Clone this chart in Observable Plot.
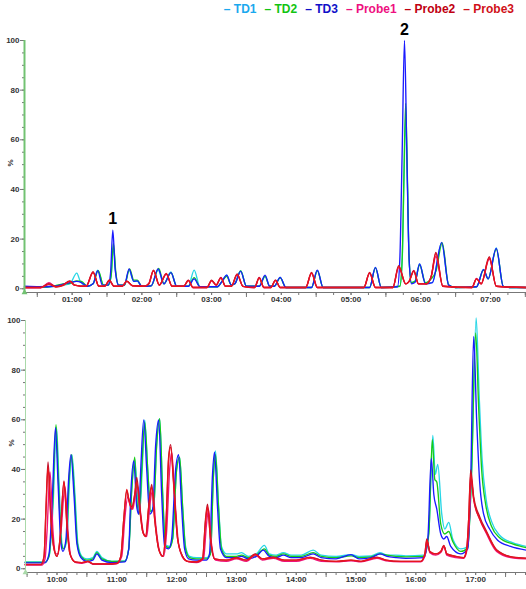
<!DOCTYPE html>
<html><head><meta charset="utf-8">
<script src="https://cdn.jsdelivr.net/npm/d3@7"></script>
<script src="https://cdn.jsdelivr.net/npm/@observablehq/plot@0.6"></script>
<style>
body{margin:0;background:#fff;font-family:"Liberation Sans",Arial,sans-serif;}
#wrap{position:relative;width:526px;height:589px;overflow:hidden;background:#fff}
#legend{position:absolute;top:2px;right:12px;font-weight:bold;font-size:12px;white-space:nowrap;line-height:14px}
#legend span{margin-left:8px}
#top{position:absolute;left:0;top:22px}
#bot{position:absolute;left:0;top:302px}
</style></head>
<body><div id="wrap"><div id="legend"></div><div id="top"></div><div id="bot"></div></div>
<script>
// ---------- data ----------
const seriesNames = ["TD1","TD2","TD3","Probe1","Probe2","Probe3"];
const lineColors = ["#27d6e6","#17cc17","#1a1aff","#f0127a","#c0102a","#e8141e"];
const legendColors = ["#1aa8ee","#12c412","#1010c8","#ee1080","#c00010","#d01018"];
const yTicks = [0,20,40,60,80,100];
const peakLabels = [{series:"TD3", t:"01:35", label:"1"}, {series:"TD3", t:"05:46", label:"2"}];

const td1Top = [["00:19",0.8],["00:32",0.6],["00:45",1],["00:52",1.5],["00:58",2],["01:04",6.3],["01:07",3],["01:13",1],["01:18",2],["01:22",7.5],["01:27",1.5],["01:31",1.5],["01:33:30",5],["01:35:30",17],["01:37:30",6],["01:40",1.5],["01:45",1.5],["01:49",7.5],["01:53",3],["01:56",3],["02:00",1],["02:08",1.2],["02:14",7.5],["02:19",2],["02:25",6.8],["02:30",1],["02:40",1],["02:45",7.5],["02:50",0.8],["03:05",0.8],["03:09",3],["03:13",5.5],["03:17",1.5],["03:20",2],["03:25",7.3],["03:30",1],["03:41",1],["03:46",5],["03:50",1],["03:54",1],["03:59",4.6],["04:04",0.5],["04:26",0.5],["04:31",7.3],["04:36",0.5],["05:16",0.5],["05:21",8.6],["05:26",0.5],["05:42",1],["05:44",11],["05:45:30",42],["05:47",70],["05:48:30",42],["05:50",11],["05:52",2.5],["05:55",3],["05:59",10],["06:04",2.5],["06:10",2.5],["06:18",18.5],["06:24",1.5],["06:30",0.5],["06:48",0.8],["06:54",7.8],["06:58",4],["07:05",16.5],["07:11",1],["07:18",0.5],["07:31",0.5]];
const td2Top = [["00:19",0.8],["00:32",0.6],["00:45",1.2],["00:52",2],["00:58",2.2],["01:04",3.2],["01:08",3],["01:13",1],["01:18",2],["01:22:30",7.3],["01:27",1.5],["01:31",1.5],["01:33:30",5],["01:35:30",18.3],["01:37:30",7],["01:40",1.5],["01:45",1.5],["01:49:30",8],["01:53",3.5],["01:56",3.5],["02:00",1],["02:08",1.2],["02:14:30",8.2],["02:19",2],["02:25",6.5],["02:30",1],["02:40",1],["02:45",4.5],["02:50",0.8],["03:05",0.8],["03:09",3],["03:13",5],["03:17",1.5],["03:20",2],["03:25",7.2],["03:30",1],["03:41",1],["03:46",5],["03:50",1],["03:54",1],["03:59",4.4],["04:04",0.5],["04:26",0.5],["04:31",7.3],["04:36",0.5],["05:16",0.5],["05:21",8.4],["05:26",0.5],["05:42",1],["05:44",12],["05:45:30",45],["05:47",74.7],["05:48:30",45],["05:50",12],["05:52",2.5],["05:55",3],["05:59",9.5],["06:04",2.5],["06:09",4],["06:13",7],["06:18:30",18.5],["06:24",1.5],["06:30",0.5],["06:48",0.8],["06:54",7.5],["06:58",4],["07:05",16],["07:11",1],["07:18",0.5],["07:31",0.5]];
const td3Top = [["00:19",1],["00:32",0.8],["00:45",1],["00:52",1.8],["00:58",2.5],["01:04",3],["01:08",2.5],["01:13",1],["01:18",2],["01:22",7.3],["01:26",1.5],["01:31",1.5],["01:33",6],["01:35",23.6],["01:37",8],["01:40",1.5],["01:45",1.5],["01:49",8],["01:53",3],["01:56",3.2],["02:00",1],["02:08",1.2],["02:14",8],["02:19",2],["02:25",6.5],["02:30",1],["02:40",1],["02:45",4],["02:50",0.8],["03:05",0.8],["03:09",3],["03:13",5.5],["03:17",1.5],["03:20",2],["03:25",7],["03:30",1],["03:41",1],["03:46",5.5],["03:50",1],["03:54",1],["03:59",4.6],["04:04",0.5],["04:26",0.5],["04:31",7.5],["04:36",0.5],["05:16",0.5],["05:21",8.6],["05:26",0.5],["05:40",0.8],["05:42",12],["05:44",55],["05:46",100],["05:48",55],["05:50",12],["05:52",2],["05:55",2.5],["05:59",10],["06:04",2],["06:10",2.5],["06:18",18.7],["06:24",1.5],["06:30",0.5],["06:48",0.8],["06:54",7.7],["06:58",4],["07:05",16.3],["07:11",1],["07:18",0.5],["07:31",0.5]];
const probe1Top = [["00:19",0.4],["00:33",0.4],["00:40",2.5],["00:46",0.8],["00:52",1.5],["00:58",3],["01:02",1.5],["01:12",1],["01:18",6.6],["01:23",1],["01:28",1],["01:32",3.2],["01:36",1],["01:43",1],["01:47",3],["01:52",1.2],["02:02",1],["02:06",2.2],["02:10",7.2],["02:15",1.5],["02:21",5.8],["02:26",1],["02:36",1],["02:40",3.4],["02:44",0.5],["02:56",0.5],["03:00",3.2],["03:04",1.5],["03:08",4.6],["03:12",1],["03:17",1],["03:22",5.6],["03:27",1],["03:37",0.5],["03:41",4.6],["03:45",0.5],["03:51",0.5],["03:55",3.5],["03:59",0.5],["04:21",0.5],["04:26",6.2],["04:31",0.5],["05:11",0.5],["05:16",6.2],["05:21",0.5],["05:36",0.5],["05:41",8.5],["05:47",2],["05:50",3],["05:54",7.4],["05:58",2],["06:05",2],["06:09",5],["06:13",13],["06:19",1],["06:44",0.5],["06:48",4.2],["06:52",2],["06:59",12],["07:05",1],["07:31",0.5]];
const probe2Top = [["00:19",0.5],["00:33",0.5],["00:40",2.1],["00:46",0.8],["00:52",1.5],["00:58",3.2],["01:02",1.5],["01:12",1],["01:18",6.9],["01:23",1],["01:28",1],["01:32",3.6],["01:36",1],["01:43",1],["01:47",3],["01:52",1.2],["02:02",1],["02:06",2],["02:10",7.5],["02:15",1.5],["02:21",6],["02:26",1],["02:36",1],["02:40",3.5],["02:44",0.5],["02:56",0.5],["03:00",3.5],["03:04",1.5],["03:08",4.5],["03:12",1],["03:17",1],["03:22",6],["03:27",1],["03:37",0.5],["03:41",4.5],["03:45",0.5],["03:51",0.5],["03:55",3.5],["03:59",0.5],["04:21",0.5],["04:26",6.6],["04:31",0.5],["05:11",0.5],["05:16",6.6],["05:21",0.5],["05:36",0.5],["05:41",9.3],["05:47",2],["05:50",3],["05:54",7.3],["05:58",2],["06:05",2],["06:09",5],["06:13",14.6],["06:19",1],["06:44",0.5],["06:48",4],["06:52",2],["06:59",12.9],["07:05",1],["07:31",0.5]];
const probe3Top = [["00:19",0.5],["00:33",0.5],["00:40",1.8],["00:46",0.8],["00:52",1.3],["00:58",3],["01:02",1.5],["01:12",1],["01:18",6.5],["01:23",1],["01:28",1],["01:32",3.4],["01:36",1],["01:43",1],["01:47",3.2],["01:52",1.2],["02:02",1],["02:06",2],["02:10",7.3],["02:15",1.5],["02:21",6.2],["02:26",1],["02:36",1],["02:40",3.3],["02:44",0.5],["02:56",0.5],["03:00",3.3],["03:04",1.5],["03:08",4.3],["03:12",1],["03:17",1],["03:22",5.8],["03:27",1],["03:37",0.5],["03:41",4.3],["03:45",0.5],["03:51",0.5],["03:55",3.3],["03:59",0.5],["04:21",0.5],["04:26",6.4],["04:31",0.5],["05:11",0.5],["05:16",6.4],["05:21",0.5],["05:36",0.5],["05:41",9],["05:47",2],["05:50",3],["05:54",7],["05:58",2],["06:05",2],["06:09",5],["06:13",14.2],["06:19",1],["06:44",0.5],["06:48",4],["06:52",2],["06:59",12.5],["07:05",1],["07:31",0.5]];

const td1Bot = [["09:28",2.8],["09:48",2.8],["09:52",5],["09:56",25],["09:59:30",57],["10:02",35],["10:05",10],["10:07",8],["10:10",12],["10:12:30",35],["10:15",46],["10:18",30],["10:21",10],["10:25",5],["10:30",4],["10:36",4.5],["10:40",7],["10:45",4.5],["10:55",3],["11:08",3.2],["11:12",8],["11:15",32],["11:18",44],["11:21",28],["11:23",23],["11:25:30",40],["11:28",60],["11:31",40],["11:34",23],["11:37",25],["11:40",50],["11:43",60.5],["11:46",30],["11:49",9.5],["11:53",9],["11:56",12],["12:00",40],["12:03",45],["12:06",25],["12:09",9],["12:13",5],["12:20",4.5],["12:30",4.5],["12:34",6.5],["12:37",38],["12:39",47.5],["12:42",26],["12:45",9],["12:50",6],["13:00",6],["13:05",6.5],["13:12",5],["13:20",6],["13:28",9.4],["13:33",6],["13:40",5.5],["13:47",6.5],["13:55",5.5],["14:05",5.5],["14:17",7.5],["14:25",5.5],["14:40",5],["14:55",5.7],["15:03",5],["15:15",5.2],["15:24",6.5],["15:31",5.5],["15:40",5.5],["15:50",5.2],["16:08",5.5],["16:13",15],["16:17",53.7],["16:19:30",38],["16:22",42],["16:26",22],["16:29",16],["16:33",18.7],["16:37",12],["16:45",8],["16:52",9],["16:56",40],["17:00:30",101],["17:03:30",70],["17:06:30",44],["17:10:30",28],["17:16",19],["17:24",13.5],["17:37",10.5],["17:51",9]];
const td2Bot = [["09:28",2.6],["09:48",2.6],["09:52",5],["09:55:30",25],["09:59",58],["10:01:30",35],["10:04:30",10],["10:06:30",8],["10:09:30",12],["10:12",35],["10:14:30",46],["10:17:30",30],["10:20:30",10],["10:24",5],["10:30",3.5],["10:36",4],["10:40",6.5],["10:45",4],["10:55",3],["11:08",3],["11:12",8],["11:15",32],["11:18",45],["11:20",28],["11:22:30",22],["11:25",40],["11:28",59],["11:31",40],["11:34",23],["11:37",25],["11:40",50],["11:43",60.5],["11:46",30],["11:49",9],["11:53",8.5],["11:56",12],["12:00",40],["12:03",45],["12:06",25],["12:09",8],["12:13",4.5],["12:20",4],["12:30",4],["12:34",6],["12:37",38],["12:39",46],["12:42",25],["12:45",8],["12:50",5],["13:00",5],["13:05",5.5],["13:12",4.5],["13:20",5.5],["13:28",8],["13:33",5.5],["13:40",5],["13:47",6],["13:55",5],["14:05",5],["14:17",6.5],["14:25",5],["14:40",4.5],["14:55",5.2],["15:03",4.5],["15:15",4.8],["15:24",6],["15:31",5.5],["15:40",5],["15:50",4.8],["16:08",5],["16:13",14],["16:16:30",52],["16:19",36],["16:21",35],["16:25",18],["16:29",14],["16:33",15],["16:37",11],["16:45",7],["16:52",8.5],["16:56",40],["17:00",95],["17:03",65],["17:06",40],["17:10",26],["17:16",17],["17:24",12.5],["17:37",10],["17:51",8.5]];
const td3Bot = [["09:28",2.4],["09:48",2.4],["09:52",6],["09:55",25],["09:58:30",56.8],["10:01",35],["10:04",10],["10:06",7],["10:09",12],["10:11:30",35],["10:14",46],["10:17",30],["10:20",10],["10:24",4.5],["10:30",3],["10:36",3.5],["10:40",6],["10:45",3.5],["10:55",2.5],["11:08",2.8],["11:12",8],["11:14",30],["11:17",43.4],["11:20",25],["11:22",22],["11:24",40],["11:27",60],["11:30",40],["11:33",22],["11:36",24],["11:39",50],["11:42",60],["11:45",30],["11:48",9],["11:52",8],["11:55",12],["11:59",40],["12:02",46],["12:05",25],["12:08",8],["12:12",4],["12:20",3.5],["12:30",3.5],["12:33",6],["12:36",38],["12:38",47],["12:41",25],["12:44",8],["12:50",4.5],["13:00",4.5],["13:05",5],["13:12",4],["13:20",5],["13:27",7.5],["13:33",5],["13:40",4.5],["13:47",5.5],["13:55",4.5],["14:05",4.5],["14:17",6],["14:25",4.5],["14:40",4],["14:55",5.7],["15:03",4],["15:15",4.5],["15:24",6],["15:31",5],["15:40",4.5],["15:50",4.2],["16:08",4.5],["16:12",12],["16:15:30",44.4],["16:18",30],["16:21",24],["16:25",14],["16:28",12],["16:31",13],["16:35",9],["16:45",6],["16:52",8],["16:55",35],["16:58",93.6],["17:01",60],["17:04",35],["17:08",22],["17:14",16],["17:22",11.5],["17:35",9],["17:51",7.5]];
const probe1Bot = [["09:28",1.5],["09:45",1.5],["09:48",4],["09:50",15],["09:53",39],["09:56",15],["09:59",6],["10:01",6],["10:04",15],["10:08",33],["10:11",15],["10:14",5],["10:19",2.5],["10:25",2.2],["10:31",2.8],["10:36",1.8],["10:50",1.8],["11:00",2],["11:05",5],["11:08",20],["11:11",29],["11:13",26],["11:16",24],["11:18",28],["11:21",33],["11:24",22],["11:27",14],["11:30",13],["11:33",25],["11:36",32],["11:39",18],["11:43",7],["11:47",5],["11:50",15],["11:53",40],["11:55",47],["11:58",30],["12:02",10],["12:07",4],["12:12",2.8],["12:20",2.5],["12:27",4],["12:30",18],["12:32",24],["12:35",10],["12:39",3.5],["12:50",3],["13:00",4],["13:10",3],["13:19",5.5],["13:26",3.5],["13:37",4.2],["13:48",3],["14:00",3],["14:14",4.2],["14:25",3],["14:40",2.8],["14:55",3.2],["15:05",2.8],["15:21",4.2],["15:30",3.2],["15:45",2.8],["16:05",2.8],["16:09",5],["16:11:30",11],["16:14",6.5],["16:20",5.5],["16:25",6.5],["16:28:30",9],["16:31",5.5],["16:40",4.5],["16:48",4.2],["16:51",7],["16:53:30",18],["16:55:30",36],["16:58",28],["17:04",20],["17:11",14],["17:21",7],["17:38",4.3],["17:51",4]];
const probe2Bot = [["09:28",1.7],["09:44",1.7],["09:47",5],["09:49",25],["09:51",43],["09:54",20],["09:57",8],["10:00",5],["10:03",12],["10:07",35.4],["10:10",18],["10:13",6],["10:18",2.8],["10:25",2.5],["10:31",3],["10:36",2],["10:50",2],["11:00",2.2],["11:04",5],["11:07",20],["11:10",31.4],["11:12",28],["11:15",25],["11:18",30],["11:20",36.8],["11:23",25],["11:26",15],["11:29",13],["11:32",25],["11:35",34],["11:38",20],["11:42",8],["11:46",5],["11:49",15],["11:52",45],["11:54",50],["11:57",35],["12:01",12],["12:06",5],["12:11",3],["12:20",2.8],["12:26",4],["12:29",20],["12:31",26],["12:34",12],["12:38",4],["12:50",3.5],["13:00",4.5],["13:10",3.5],["13:19",6],["13:26",4],["13:37",4.7],["13:48",3.5],["14:00",3.5],["14:14",4.7],["14:25",3.5],["14:40",3],["14:55",3.5],["15:05",3],["15:21",4.7],["15:30",3.5],["15:45",3],["16:05",3],["16:09",6],["16:11",12],["16:14",7],["16:20",6],["16:25",7],["16:28",9.4],["16:31",6],["16:40",5],["16:48",4.5],["16:51",8],["16:53",20],["16:55",39.8],["16:58",29],["17:04",21],["17:11",15],["17:21",7.7],["17:38",4.7],["17:51",4.3]];
const probe3Bot = [["09:28",1.8],["09:44",1.8],["09:47",5],["09:49",24],["09:51",41],["09:54",19],["09:57",8],["10:00",5],["10:03",12],["10:07",35],["10:10",17],["10:13",6],["10:18",2.8],["10:25",2.5],["10:31",3],["10:36",2],["10:50",2],["11:00",2.2],["11:04",5],["11:07",20],["11:10",32],["11:12",28],["11:15",24],["11:18",30],["11:20",35],["11:23",24],["11:26",15],["11:29",13],["11:32",25],["11:35",33],["11:38",20],["11:42",8],["11:46",5],["11:49",15],["11:52",44],["11:54",49],["11:57",34],["12:01",12],["12:06",5],["12:11",3],["12:20",2.8],["12:26",4],["12:29",19],["12:31",25],["12:34",12],["12:38",4],["12:50",3.5],["13:00",4.3],["13:10",3.5],["13:19",5.8],["13:26",4],["13:37",4.5],["13:48",3.5],["14:00",3.5],["14:14",4.5],["14:25",3.5],["14:40",3],["14:55",3.5],["15:05",3],["15:21",4.5],["15:30",3.5],["15:45",3],["16:05",3],["16:09",6],["16:11",11.5],["16:14",7],["16:20",6],["16:25",7],["16:28",9.2],["16:31",6],["16:40",5],["16:48",4.5],["16:51",8],["16:53",20],["16:55",38],["16:58",28],["17:04",20],["17:11",14.5],["17:21",7.5],["17:38",4.6],["17:51",4.2]];

const topSeries = [td1Top, td2Top, td3Top, probe1Top, probe2Top, probe3Top];
const botSeries = [td1Bot, td2Bot, td3Bot, probe1Bot, probe2Bot, probe3Bot];

// ---------- drawing ----------
const parseT = s => { const [h,m,sec] = s.split(":").map(Number); return new Date(Date.UTC(2000,0,1,h,m,sec||0)); };
const rows = arr => arr.map(([t,v]) => ({t: parseT(t), v}));
const Y_MIN = -1.5;

const legend = document.getElementById("legend");
seriesNames.forEach((n,i) => {
  const s = document.createElement("span");
  s.style.color = legendColors[i];
  s.textContent = "\u2013 " + n;
  legend.appendChild(s);
});

function panel({series, start, end, marginLeft, minorStep, axisColor, axisWidth, labels}) {
  const x0 = parseT(start), x1 = parseT(end);
  const hours = d3.utcHour.range(x0, x1);
  const minor = d3.utcMinute.every(minorStep).range(x0, x1);
  const half = d3.utcMinute.every(30).range(x0, x1).filter(d => d.getUTCMinutes() === 30);
  const marks = [
    Plot.ruleY([Y_MIN], {stroke:"#777", strokeWidth:1}),
    Plot.axisX({ticks: minor, tickSize:3, fill:"none", stroke:"#777", label:null}),
    Plot.axisX({ticks: half, tickSize:5, fill:"none", stroke:"#777", label:null}),
    Plot.axisX({ticks: hours, tickSize:3, tickPadding:1, tickFormat: d3.utcFormat("%H:%M"), stroke:"#777", fill:"#333", label:null}),
    Plot.axisY({ticks: d3.range(0,101,5), tickSize:2, fill:"none", stroke:"#777", label:null}),
    Plot.axisY({ticks: yTicks, tickSize:4, tickPadding:1, stroke:"#777", fill:"#333", label:null}),
    Plot.text(["%"], {frameAnchor:"left", dx:-14, rotate:-90, fill:"#333"})
  ];
  series.forEach((arr, i) => {
    marks.push(Plot.line(rows(arr), {x:"t", y:"v", stroke: lineColors[i], strokeWidth:1.35, curve:"monotone-x"}));
  });
  marks.push(Plot.ruleX([x0], {stroke: axisColor, strokeWidth: axisWidth}));
  marks.push(Plot.dot([{t:x0, v:Y_MIN}], {x:"t", y:"v", symbol:"triangle", r:2.2, fill:axisColor, stroke:"none"}));
  if (labels) {
    const lab = labels.map(l => {
      const arr = series[seriesNames.indexOf(l.series)];
      const pt = arr.find(p => p[0] === l.t);
      return {t: parseT(pt[0]), v: pt[1], label: l.label};
    });
    marks.push(Plot.text(lab, {x:"t", y:"v", text:"label", dy:-11, fontSize:16, fontWeight:"bold", fill:"#000"}));
  }
  return Plot.plot({
    width:526, height:290, marginLeft, marginRight:0, marginTop:18, marginBottom:20,
    style:{fontFamily:"'Liberation Sans', Arial, sans-serif", fontSize:"8px", fontWeight:"bold", background:"transparent", overflow:"visible"},
    x:{type:"utc", domain:[x0, x1]},
    y:{domain:[Y_MIN, 100]},
    marks
  });
}

document.getElementById("top").appendChild(panel({
  series: topSeries, start:"00:19", end:"07:31", marginLeft:24, minorStep:15,
  axisColor:"#72c272", axisWidth:2, labels: peakLabels
}));
document.getElementById("bot").appendChild(panel({
  series: botSeries, start:"09:28:24", end:"17:51", marginLeft:25, minorStep:10,
  axisColor:"#a9d9a9", axisWidth:1, labels:null
}));
</script></body></html>
